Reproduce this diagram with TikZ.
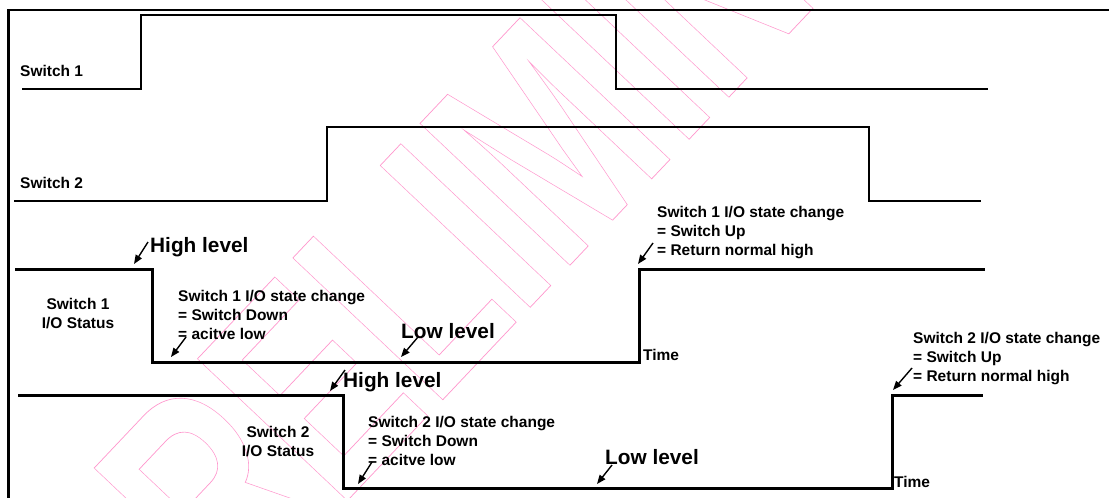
\documentclass[tikz,border=0pt]{standalone}
\usepackage{fontspec}
\setmainfont{Liberation Sans}
\usetikzlibrary{arrows.meta}
\definecolor{wm}{RGB}{255,150,205}
\begin{document}
\begin{tikzpicture}[x=1pt,y=-1pt,
  sig/.style={line width=1.8pt},
  iosig/.style={line width=3pt},
  frame/.style={line width=2.5pt},
  lbl/.style={font=\bfseries\fontsize{15.5}{19}\selectfont, inner sep=0pt, align=left},
  big/.style={font=\bfseries\fontsize{20.8}{24}\selectfont, inner sep=0pt},
  pointer/.style={line width=1.4pt, -{Triangle[length=9pt,width=7pt]}}
]
\useasboundingbox[fill=white] (0,0) rectangle (1109,498);

% watermark (outlined text)
\node[rotate=46.6, anchor=base west, inner sep=0pt, text=wm] (wmark) at (139,721)
  {\special{pdf:literal direct 1 Tr 0.7 w}\scalebox{0.694}[1]{\bfseries\fontsize{300}{300}\selectfont PRELIMINARY}\special{pdf:literal direct 0 Tr}};

% frame
\draw[frame] (8.7,498) -- (8.7,10) -- (1109,10);

% switch signals
\draw[sig] (22,89) -- (141,89) -- (141,15) -- (616,15) -- (616,89) -- (988,89);
\draw[sig] (14,201) -- (327,201) -- (327,127) -- (869,127) -- (869,201) -- (981,201);

% I/O status signals
\draw[iosig] (15,269) -- (152,269) -- (152,362) -- (639,362) -- (639,269) -- (985,269);
\draw[iosig] (18,395) -- (343,395) -- (343,488) -- (892,488) -- (892,395) -- (983,395);

% labels
\node[lbl, anchor=base west] (s1) at (20,76) {Switch 1};
\node[lbl, anchor=base west] (s2) at (20,188) {Switch 2};
\node[big, anchor=base west] (hl1) at (150,252) {High level};
\node[lbl, anchor=north, align=center] (io1) at (78,298.5) {Switch 1\\I/O Status};
\node[lbl, anchor=north west] (c1) at (178,290.5) {Switch 1 I/O state change\\= Switch Down\\= acitve low};
\node[big, anchor=base west] (ll1) at (401,338) {Low level};
\node[lbl, anchor=base west] (t1) at (643,360) {Time};
\node[big, anchor=base west] (hl2) at (343,387) {High level};
\node[lbl, anchor=north, align=center] (io2) at (278,426.5) {Switch 2\\I/O Status};
\node[lbl, anchor=north west] (c2) at (368,416.5) {Switch 2 I/O state change\\= Switch Down\\= acitve low};
\node[big, anchor=base west] (ll2) at (605,464) {Low level};
\node[lbl, anchor=base west] (t2) at (894,487) {Time};
\node[lbl, anchor=north west] (u1) at (657,206.5) {Switch 1 I/O state change\\= Switch Up\\= Return normal high};
\node[lbl, anchor=north west] (u2) at (913,332.5) {Switch 2 I/O state change\\= Switch Up\\= Return normal high};

% pointer arrows
\coordinate (a1s) at (148,242); \coordinate (a1e) at (134,264);
\coordinate (a2s) at (186,337); \coordinate (a2e) at (171,357);
\coordinate (a3s) at (418,337); \coordinate (a3e) at (401,357);
\coordinate (a4s) at (345,370); \coordinate (a4e) at (330,391);
\coordinate (a5s) at (372,462); \coordinate (a5e) at (358,484);
\coordinate (a6s) at (612,465); \coordinate (a6e) at (597,484);
\coordinate (a7s) at (653,243); \coordinate (a7e) at (638,264);
\coordinate (a8s) at (912,368); \coordinate (a8e) at (893,390);
\foreach \i in {1,...,8} \draw[pointer] (a\i s) -- (a\i e);
\end{tikzpicture}
\end{document}
